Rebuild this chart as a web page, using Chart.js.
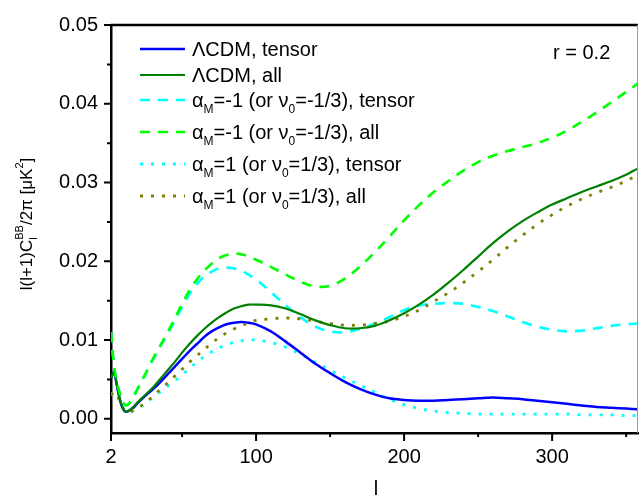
<!DOCTYPE html>
<html>
<head>
<meta charset="utf-8">
<script src="https://cdn.jsdelivr.net/npm/chart.js@4"></script>
<style>
  html, body { margin: 0; padding: 0; background: #fff; }
</style>
</head>
<body>
<canvas id="chart" width="639" height="498"></canvas>
<script>
// multipole l
const ell = [2, 4, 6, 8, 10, 12, 14, 17, 20, 25, 30, 35, 40, 45, 50, 55, 60, 65, 70, 75, 80, 85, 90, 95, 100,
  110, 120, 130, 140, 150, 160, 170, 180, 190, 200, 210, 220, 230, 240, 250, 260, 270, 280, 290, 300,
  310, 320, 330, 340, 350, 358];

// l(l+1)C_l^BB/2pi [uK^2]
const lcdmTensor = [0.0052, 0.0059, 0.0042, 0.0024, 0.0013, 0.0009, 0.0010, 0.0014, 0.0020, 0.0029, 0.0037, 0.0046, 0.0056, 0.0066, 0.0076, 0.0086, 0.0095, 0.0104, 0.0111, 0.0116, 0.0120, 0.0122, 0.0123, 0.0122, 0.0120,
  0.0111, 0.0098, 0.0084, 0.0070, 0.0058, 0.0047, 0.0038, 0.0031, 0.0026, 0.0024, 0.0023, 0.0023, 0.0024, 0.0025, 0.0026, 0.0027, 0.0026, 0.0025, 0.0023, 0.0021,
  0.0019, 0.0017, 0.0015, 0.0014, 0.0013, 0.0012];
const lcdmAll = [0.0052, 0.0059, 0.0043, 0.0025, 0.0014, 0.0009, 0.0010, 0.0015, 0.0021, 0.0030, 0.0039, 0.0050, 0.0061, 0.0072, 0.0084, 0.0095, 0.0105, 0.0114, 0.0122, 0.0129, 0.0135, 0.0140, 0.0143, 0.0145, 0.0145,
  0.0144, 0.0140, 0.0133, 0.0125, 0.0119, 0.0115, 0.0115, 0.0118, 0.0125, 0.0134, 0.0145, 0.0158, 0.0173, 0.0189, 0.0206, 0.0223, 0.0238, 0.0251, 0.0262, 0.0272,
  0.0280, 0.0288, 0.0295, 0.0302, 0.0310, 0.0318];
const aMinusTensor = [0.0110, 0.0068, 0.0046, 0.0032, 0.0022, 0.0017, 0.0019, 0.0028, 0.0038, 0.0056, 0.0074, 0.0091, 0.0107, 0.0124, 0.0142, 0.0158, 0.0171, 0.0181, 0.0187, 0.0191, 0.0192, 0.0191, 0.0188, 0.0183, 0.0177,
  0.0161, 0.0144, 0.0129, 0.0117, 0.0111, 0.0110, 0.0114, 0.0121, 0.0129, 0.0138, 0.0144, 0.0146, 0.0147, 0.0146, 0.0142, 0.0137, 0.0130, 0.0123, 0.0117, 0.0113,
  0.0111, 0.0112, 0.0115, 0.0118, 0.0120, 0.0121];
const aMinusAll = [0.0110, 0.0068, 0.0046, 0.0032, 0.0022, 0.0017, 0.0019, 0.0028, 0.0038, 0.0056, 0.0075, 0.0092, 0.0109, 0.0127, 0.0146, 0.0163, 0.0177, 0.0188, 0.0197, 0.0204, 0.0208, 0.0210, 0.0209, 0.0206, 0.0202,
  0.0193, 0.0183, 0.0174, 0.0168, 0.0169, 0.0178, 0.0193, 0.0211, 0.0231, 0.0252, 0.0271, 0.0288, 0.0302, 0.0315, 0.0326, 0.0334, 0.0340, 0.0345, 0.0350, 0.0357,
  0.0366, 0.0377, 0.0389, 0.0402, 0.0415, 0.0426];
const aPlusTensor = [0.0030, 0.0034, 0.0030, 0.0022, 0.0014, 0.0009, 0.0008, 0.0010, 0.0013, 0.0019, 0.0027, 0.0034, 0.0041, 0.0048, 0.0056, 0.0064, 0.0072, 0.0079, 0.0085, 0.0090, 0.0094, 0.0097, 0.0099, 0.0100, 0.0100,
  0.0097, 0.0091, 0.0082, 0.0072, 0.0062, 0.0052, 0.0043, 0.0034, 0.0025, 0.0018, 0.0013, 0.0010, 0.0008, 0.0007, 0.0006, 0.0006, 0.0006, 0.0006, 0.0006, 0.0006,
  0.0006, 0.0005, 0.0005, 0.0005, 0.0004, 0.0004];
const aPlusAll = [0.0030, 0.0034, 0.0031, 0.0022, 0.0014, 0.0009, 0.0008, 0.0011, 0.0014, 0.0020, 0.0028, 0.0037, 0.0045, 0.0054, 0.0063, 0.0072, 0.0080, 0.0088, 0.0096, 0.0103, 0.0109, 0.0114, 0.0118, 0.0122, 0.0125,
  0.0127, 0.0128, 0.0127, 0.0124, 0.0121, 0.0119, 0.0119, 0.0121, 0.0124, 0.0130, 0.0138, 0.0149, 0.0160, 0.0173, 0.0187, 0.0202, 0.0218, 0.0233, 0.0247, 0.0259,
  0.0270, 0.0279, 0.0287, 0.0294, 0.0302, 0.0310];

const xMajor = [2, 100, 200, 300];
const xMinor = [50, 150, 250, 350];
const yMajor = [0, 0.01, 0.02, 0.03, 0.04, 0.05];
const yMinor = [0.005, 0.015, 0.025, 0.035, 0.045];

// legend text pieces: [text, mode]
const legendLabels = [
  [['ΛCDM, tensor']],
  [['ΛCDM, all']],
  [['α'], ['M', 'sub'], ['=-1 (or ν'], ['0', 'sub'], ['=-1/3), tensor']],
  [['α'], ['M', 'sub'], ['=-1 (or ν'], ['0', 'sub'], ['=-1/3), all']],
  [['α'], ['M', 'sub'], ['=1 (or ν'], ['0', 'sub'], ['=1/3), tensor']],
  [['α'], ['M', 'sub'], ['=1 (or ν'], ['0', 'sub'], ['=1/3), all']]
];
const yTitle = [['l(l+1)C'], ['l', 'subsup', 'BB'], ['/2π [μK'], ['2', 'sup'], [']']];

const FONT = '"Liberation Sans", Arial, sans-serif';
const pts = ys => ell.map((l, i) => ({ x: l, y: ys[i] }));

function drawRich(ctx, parts, x, y, size, dry) {
  let cx = x;
  const small = Math.round(size * 0.62);
  for (const [txt, mode, txt2] of parts) {
    if (!mode) {
      ctx.font = `${size}px ${FONT}`;
      if (!dry) ctx.fillText(txt, cx, y);
      cx += ctx.measureText(txt).width;
      continue;
    }
    ctx.font = `${small}px ${FONT}`;
    let w = ctx.measureText(txt).width;
    if (mode === 'sup') {
      if (!dry) ctx.fillText(txt, cx, y - size * 0.42);
    } else {
      if (!dry) ctx.fillText(txt, cx, y + size * 0.42);
    }
    if (mode === 'subsup') {
      if (!dry) ctx.fillText(txt2, cx, y - size * 0.42);
      w = Math.max(w, ctx.measureText(txt2).width);
    }
    cx += w;
  }
  return cx - x;
}

const decor = {
  id: 'decor',
  afterDraw(chart) {
    const { ctx, chartArea: a, scales: { x, y } } = chart;
    ctx.save();
    // axis ticks, outward
    ctx.strokeStyle = '#000';
    ctx.lineWidth = 2;
    ctx.beginPath();
    yMajor.forEach(v => { const p = y.getPixelForValue(v); ctx.moveTo(a.left - 7, p); ctx.lineTo(a.left, p); });
    yMinor.forEach(v => { const p = y.getPixelForValue(v); ctx.moveTo(a.left - 4, p); ctx.lineTo(a.left, p); });
    xMajor.forEach(v => { const p = x.getPixelForValue(v); ctx.moveTo(p, a.bottom); ctx.lineTo(p, a.bottom + 8); });
    xMinor.forEach(v => { const p = x.getPixelForValue(v); ctx.moveTo(p, a.bottom); ctx.lineTo(p, a.bottom + 4); });
    ctx.stroke();
    // top and right frame
    ctx.lineWidth = 2.5;
    ctx.beginPath();
    ctx.moveTo(a.left, a.top); ctx.lineTo(a.right, a.top);
    ctx.stroke();
    ctx.strokeStyle = '#999';
    ctx.lineWidth = 1;
    ctx.beginPath();
    ctx.moveTo(a.right - 0.5, a.top); ctx.lineTo(a.right - 0.5, a.bottom);
    ctx.stroke();

    // legend
    const rows = [49, 75, 100, 132, 164, 196];
    ctx.textBaseline = 'middle';
    ctx.textAlign = 'left';
    ctx.fillStyle = '#000';
    chart.data.datasets.forEach((ds, i) => {
      ctx.strokeStyle = ds.borderColor;
      ctx.lineWidth = ds.borderWidth;
      ctx.setLineDash(ds.borderDash || []);
      ctx.beginPath();
      ctx.moveTo(140, rows[i]); ctx.lineTo(185, rows[i]);
      ctx.stroke();
      ctx.setLineDash([]);
      drawRich(ctx, legendLabels[i], 192, rows[i] + 1, 20);
    });

    // annotation
    ctx.font = `20px ${FONT}`;
    ctx.fillText('r = 0.2', 553, 53);

    // x axis title
    ctx.textAlign = 'center';
    ctx.fillText('l', x.getPixelForValue(181), 489);
    ctx.textAlign = 'left';

    // y axis title
    ctx.translate(27, 224);
    ctx.rotate(-Math.PI / 2);
    const w = drawRich(ctx, yTitle, 0, 0, 17, true);
    drawRich(ctx, yTitle, -w / 2, 0, 17);
    ctx.restore();
  }
};

const line = (data, color, width, dash, order) => ({
  data: pts(data), borderColor: color, borderWidth: width, borderDash: dash,
  pointRadius: 0, fill: false, tension: 0.35, order
});

new Chart(document.getElementById('chart'), {
  type: 'line',
  data: {
    datasets: [
      line(lcdmTensor, '#0000ff', 2.5, [], 4),
      line(lcdmAll, '#008000', 2.2, [], 2),
      line(aMinusTensor, '#00ffff', 2.6, [10, 8], 5),
      line(aMinusAll, '#00ff00', 2.6, [10, 8], 1),
      line(aPlusTensor, '#00ffff', 2.8, [3, 8], 6),
      line(aPlusAll, '#808000', 2.8, [3, 8], 3)
    ]
  },
  options: {
    responsive: false,
    animation: false,
    devicePixelRatio: 1,
    layout: { padding: { top: 16, right: 1, left: 0, bottom: 0 } },
    plugins: { legend: { display: false }, tooltip: { enabled: false } },
    scales: {
      x: {
        type: 'linear', min: 2, max: 358,
        afterBuildTicks: s => { s.ticks = xMajor.map(v => ({ value: v })); },
        afterFit: s => { s.height = 65; },
        grid: { display: false, drawTicks: false },
        border: { display: true, color: '#000', width: 2.5 },
        ticks: { autoSkip: false, maxRotation: 0, padding: 12, color: '#000',
          font: { family: FONT, size: 20 }, callback: v => String(v) }
      },
      y: {
        type: 'linear', min: -0.0018, max: 0.05,
        afterBuildTicks: s => { s.ticks = yMajor.map(v => ({ value: v })); },
        afterFit: s => { s.width = 111; },
        grid: { display: false, drawTicks: false },
        border: { display: true, color: '#000', width: 2.5 },
        ticks: { autoSkip: false, padding: 13, color: '#000',
          font: { family: FONT, size: 20 }, callback: v => v.toFixed(2) }
      }
    }
  },
  plugins: [decor]
});
</script>
</body>
</html>
